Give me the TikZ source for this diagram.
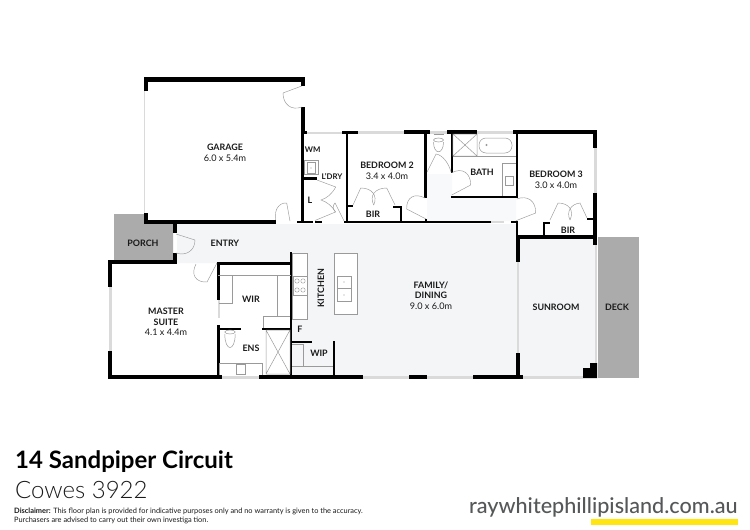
\documentclass[tikz,border=0pt]{standalone}
\usepackage{fontspec}
\setmainfont{Lato}
\newfontfamily\latolight{Lato Light}
\newfontfamily\latomed{Lato Medium}
\usetikzlibrary{calc}
\definecolor{floorc}{HTML}{F3F5F7}
\definecolor{hallc}{HTML}{F8F9FA}
\definecolor{slab}{HTML}{ABABAB}
\definecolor{wingl}{HTML}{DADADA}
\definecolor{thinl}{HTML}{9A9A9A}
\definecolor{webc}{HTML}{555759}
\definecolor{yel}{HTML}{FFE512}
\definecolor{ink}{HTML}{1A1A1A}
\tikzset{
  wall/.style={fill=black},
  winglass/.style={fill=wingl},
  fit/.style={draw=thinl,line width=0.5pt},
  doorl/.style={draw=thinl,line width=0.45pt},
  room/.style={font=\fontsize{8.9}{10}\selectfont\bfseries,text=ink,inner sep=0pt,align=center},
  roomsmall/.style={font=\fontsize{7.8}{10}\selectfont\bfseries,text=ink,inner sep=0pt,align=center},
  dims/.style={font=\fontsize{9.1}{10}\selectfont,text=ink,inner sep=0pt},
}
\newcommand{\doorswing}[3]{\draw[doorl] (#1) -- (#2) .. controls ($(#2)+0.55*(#3)-0.55*(#1)$) and ($(#3)+0.55*(#2)-0.55*(#1)$) .. (#3);}
\newcommand{\wl}[4]{\fill[wall] (#1,#2) rectangle (#3,#4);}
\newcommand{\gl}[4]{\fill[winglass] (#1,#2) rectangle (#3,#4);}
\begin{document}
\begin{tikzpicture}[x=1pt,y=-1pt]
\useasboundingbox (0,0) rectangle (750,530);
\fill[white] (0,0) rectangle (750,530);
% floors
\fill[floorc] (177,224) -- (518,224) -- (518,376) -- (291,376) -- (291,263) -- (177,263) -- cycle;
\fill[floorc] (518,239) -- (596,239) -- (596,376) -- (518,376) -- cycle;
\fill[hallc] (427,174) -- (452,174) -- (452,198) -- (516,198) -- (516,221) -- (427,221) -- cycle;
\fill[slab] (114,214) -- (144,214) -- (144,224) -- (173,224) -- (173,260) -- (114,260) -- cycle;
\fill[slab] (598,237) rectangle (639,378);
% windows
\gl{143.5}{91}{145}{213}
\gl{307}{131.5}{342}{133.5}
\gl{358}{130.5}{404}{134}
\gl{430}{130.5}{447}{134}
\gl{477}{130.5}{513}{134}
\gl{593.5}{148}{597}{193}
\gl{109}{287}{112}{351}
\gl{222}{375.5}{259}{379}
\gl{363}{375.5}{409}{379}
\gl{427}{375.5}{473}{379}
\gl{523}{375.5}{583}{379}
\gl{516.5}{262}{518.5}{353}
\gl{595}{245}{597}{363}
\gl{218}{300}{219.5}{318}
\gl{490.7}{221}{504}{222.5}
% garage walls
\wl{143.7}{77.3}{305}{82}
\wl{143.7}{82}{148}{91}
\wl{301}{82}{305}{86}
\wl{143.7}{213}{148}{224}
\wl{143.7}{220}{275.5}{224}
\wl{173}{224}{177}{233}
\wl{173}{253}{177}{263}
\wl{301}{107}{305}{133}
\wl{301.2}{133}{303.5}{223}
\wl{303}{130.5}{307}{134}
\wl{342}{130.5}{358}{134}
\wl{345.7}{134}{348}{223}
\wl{303}{177}{317}{179.5}
\wl{296.5}{220.5}{313}{223}
\wl{315}{220.5}{322}{223}
\wl{344}{220.5}{490.7}{223}
\wl{347}{205}{353}{207}
\wl{393}{206}{401.7}{208}
\wl{399.5}{206}{401.7}{221}
% top row
\wl{404}{130}{430}{134}
\wl{447}{130}{477}{134}
\wl{513}{130}{597}{134}
\wl{593.3}{134}{597}{148}
\wl{593.3}{193}{597}{245}
\wl{424}{134}{426.5}{198}
\wl{424.5}{219}{426.5}{223}
\wl{451}{133}{453.3}{173}
\wl{451}{196}{518}{198.3}
\wl{515.7}{134}{518}{198.3}
\wl{510.7}{220.5}{518}{223}
\wl{516}{220.5}{518}{240}
\wl{543}{221.7}{550}{224}
\wl{543}{222}{545}{237}
\wl{587}{218}{593.5}{220}
\wl{516}{235.3}{597}{239.3}
\wl{516}{239}{520}{262}
\wl{516}{352.7}{520}{378}
% lower
\wl{108.3}{260}{177}{264}
\wl{108.3}{264}{112.3}{287}
\wl{108.3}{351}{112.3}{379}
\wl{108.3}{375}{222}{379}
\wl{259}{375}{363}{379}
\wl{409}{375}{427}{379}
\wl{473}{375}{523}{379}
\fill[wall] (583,378) -- (583,368) -- (590,368) -- (590,363) -- (597,363) -- (597,378) -- cycle;
\wl{217.3}{262}{291}{265}
\wl{217.3}{262}{219.6}{300}
\wl{217.3}{325}{219.6}{376}
\wl{219}{328}{241}{330.3}
\wl{262}{328}{290}{330.3}
\wl{289.5}{252}{291.8}{376}
\wl{291}{341}{312}{343.3}
\wl{333}{341}{335.3}{376}
% fittings
\draw[fit] (218,275) -- (291,275);
\draw[fit] (232,275) -- (232,303) -- (219,303);
\draw[fit] (277,275) -- (277,316);
\draw[fit] (263,328) -- (263,316) -- (290,316);
\draw[fit] (266,330) rectangle (290,374) (266,330) -- (290,374) (290,330) -- (266,374);
\draw[fit] (230,332) ellipse (5.2 and 2);
\draw[fit] (224.8,334) .. controls (224.8,352) and (235.2,352) .. (235.2,334);
\draw[fit] (219.5,375) -- (219.5,363) -- (262,363) -- (262,375);
\draw[fit] (236,364) rectangle (245,374);
\draw[fit] (292,344) -- (303,344) -- (303,366) (292,366) -- (333,366);
\draw[fit,fill=white] (292,253) rectangle (307,319);
\draw[fit] (293,276) rectangle (307,295);
\foreach \px in {297,303} \foreach \py in {281,290} {\draw[fit,line width=0.4pt] (\px,\py) circle (2.2);}
\draw[fit,fill=white] (334,253) rectangle (357,314);
\draw[fit] (337,276) rectangle (351,301) (337,288.5) -- (351,288.5);
\fill[thinl] (344,282) circle (0.7) (344,295) circle (0.7);
\draw[fit] (452.8,134) rectangle (477,156) (453,134) -- (477,156) (477,134) -- (453,156);
\draw[fit,rounded corners=7pt] (479,138) rectangle (512,153);
\draw[fit] (486.5,145) circle (0.8);
\draw[fit] (453,156) -- (516,156);
\draw[fit] (516,163) -- (502,163) -- (502,196);
\draw[fit] (505,176) rectangle (513,185);
\draw[fit] (433.5,134) -- (443.5,134);
\draw[fit] (438.5,140) ellipse (5 and 2);
\draw[fit] (433.5,142) .. controls (433.5,155) and (443.5,155) .. (443.5,142);
\draw[fit] (304,160) rectangle (318,174);
\draw[fit] (307,162) rectangle (315,173);
\fill[thinl] (311,168) circle (0.7);
% doors
\doorswing{176,234}{195,240}{176,253}
\doorswing{217,263}{207,282}{196,264}
\doorswing{301.7,86}{283,93}{301.7,107}
\doorswing{290,221}{286.7,203}{275.7,220}
\draw[doorl] (317,180) -- (335.7,187) .. controls (332,194) and (327,198) .. (321,200) .. controls (327,202) and (332,206) .. (335.5,212) -- (315,220.5);
\draw[doorl] (335,203) -- (344,221);
\draw[doorl] (335,203) .. controls (332,206) and (333,209) .. (335.5,212);
\doorswing{353,205}{360.7,188}{373.7,205}
\doorswing{395,205}{386.7,188}{373.7,205}
\doorswing{426,219}{406.7,209}{425,198}
\doorswing{451.7,195}{470.7,185}{451.7,172.7}
\draw[doorl] (427,172) -- (436,154) .. controls (443,155) and (449,164) .. (451,172);
\doorswing{516,220.7}{535.7,213}{516.7,199}
\doorswing{550,220}{558,203}{570,220}
\doorswing{587,218}{580,203}{570,220}
% labels
\node[room] (lgar) at (225,147) {GARAGE};
\node[dims] (dgar) at (225,158) {6.0 x 5.4m};
\node[roomsmall] (lwm) at (312.6,150) {WM};
\node[roomsmall] (lld) at (332,176) {L'DRY};
\node[room] (ll) at (310,200) {L};
\node[room] (lbed2) at (387,165) {BEDROOM 2};
\node[dims] (dbed2) at (387,176) {3.4 x 4.0m};
\node[room] (lbir2) at (373,214) {BIR};
\node[room] (lbath) at (482,172) {BATH};
\node[room] (lbed3) at (556,174) {BEDROOM 3};
\node[dims] (dbed3) at (556,185) {3.0 x 4.0m};
\node[room] (lbir3) at (568,230) {BIR};
\node[room] (lporch) at (143,243) {PORCH};
\node[room] (lentry) at (225,243) {ENTRY};
\node[room,rotate=90] (lkit) at (321,288) {KITCHEN};
\node[room] (lwir) at (251,299) {WIR};
\node[room] (lmas1) at (166,311) {MASTER};
\node[room] (lmas2) at (166,322) {SUITE};
\node[dims] (dmas) at (166,332.5) {4.1 x 4.4m};
\node[room] (lens) at (251,348) {ENS};
\node[room] (lf) at (300,329.5) {F};
\node[room] (lwip) at (319,353) {WIP};
\node[room] (lfam1) at (431,285) {FAMILY/};
\node[room] (lfam2) at (431,295) {DINING};
\node[dims] (dfam) at (431,306.5) {9.0 x 6.0m};
\node[room] (lsun) at (556,307) {SUNROOM};
\node[room] (ldeck) at (617,307) {DECK};
% footer
\node[anchor=base west,inner sep=0pt,text=black,font=\fontsize{24}{26}\selectfont\bfseries] (addr) at (15,468) {14 Sandpiper Circuit};
\node[anchor=base west,inner sep=0pt,text=ink,font=\fontsize{24}{26}\selectfont\latolight] (town) at (15,498) {Cowes 3922};
\node[anchor=base west,inner sep=0pt,text=ink,font=\fontsize{7.4}{9}\selectfont] (disc1) at (14,513) {\textbf{Disclaimer:} This floor plan is provided for indicative purposes only and no warranty is given to the accuracy.};
\node[anchor=base west,inner sep=0pt,text=ink,font=\fontsize{7.4}{9}\selectfont] (disc2) at (14,522) {Purchasers are advised to carry out their own investiga tion.};
\fill[yel] (591,519) rectangle (737.7,525);
\node[anchor=base east,inner sep=0pt,text=webc,font=\fontsize{21.6}{24}\selectfont\latomed] (web) at (737.7,513) {raywhitephillipisland.com.au};
\end{tikzpicture}
\end{document}
